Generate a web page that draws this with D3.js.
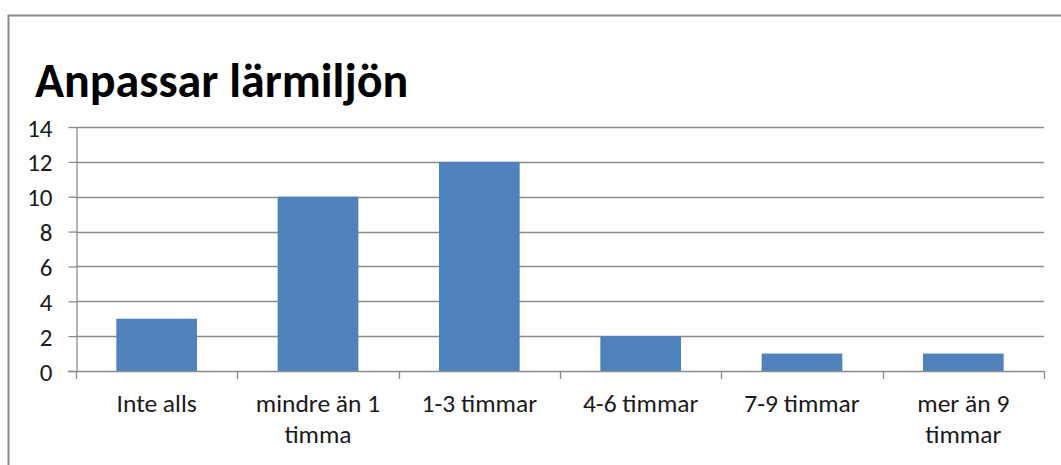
<!DOCTYPE html>
<html>
<head>
<meta charset="utf-8">
<script src="https://cdn.jsdelivr.net/npm/d3@7"></script>
<style>
  html, body { margin: 0; padding: 0; background: #fff; }
  svg { display: block; }
  text { font-family: Calibri, Carlito, Lato, "Liberation Sans", sans-serif; fill: #1a1a1a; }
</style>
</head>
<body>
<svg id="chart" width="1061" height="465"></svg>
<script>
// Chart data
const title = "Anpassar lärmiljön";
const categories = ["Inte alls", "mindre än 1\ntimma", "1-3 timmar", "4-6 timmar", "7-9 timmar", "mer än 9\ntimmar"];
const values = [3, 10, 12, 2, 1, 1];
const yTicks = [0, 2, 4, 6, 8, 10, 12, 14];

const svg = d3.select("#chart");
const W = 1061, H = 465;
const plot = { left: 76, right: 1044, top: 127, bottom: 371 };

// Outer chart frame (runs past the window on the right and bottom)
svg.append("rect")
  .attr("x", 8.5).attr("y", 15.5)
  .attr("width", W + 20).attr("height", H + 20)
  .attr("fill", "#fff")
  .attr("stroke", "#8a8a8a").attr("stroke-width", 2);

// Title
svg.append("text")
  .attr("x", 35).attr("y", 97)
  .attr("font-size", 48).attr("font-weight", 700)
  .style("fill", "#000")
  .text(title);

const x = d3.scaleBand()
  .domain(categories)
  .range([plot.left, plot.right])
  .paddingInner(0.5)
  .paddingOuter(0.25);

const y = d3.scaleLinear()
  .domain([0, 14])
  .range([plot.bottom, plot.top]);

// Horizontal gridlines
svg.append("g")
  .selectAll("line")
  .data(yTicks.filter(d => d > 0))
  .join("line")
  .attr("x1", plot.left).attr("x2", plot.right)
  .attr("y1", d => Math.round(y(d)) + 0.5).attr("y2", d => Math.round(y(d)) + 0.5)
  .attr("stroke", "#8c8c8c").attr("stroke-width", 1.3);

// Bars
svg.append("g")
  .selectAll("rect")
  .data(values)
  .join("rect")
  .attr("x", (d, i) => x(categories[i]))
  .attr("width", x.bandwidth())
  .attr("y", d => y(d))
  .attr("height", d => y(0) - y(d))
  .attr("fill", "#4f81bd");

// Y axis
const yAxis = svg.append("g")
  .attr("transform", `translate(${plot.left + 0.5},0)`)
  .call(d3.axisLeft(y).tickValues(yTicks).tickSize(8).tickPadding(16).tickSizeOuter(0));
yAxis.select(".domain").attr("stroke", "#8c8c8c").attr("stroke-width", 1.3);
yAxis.selectAll(".tick line").attr("stroke", "#8c8c8c").attr("stroke-width", 1.3);
yAxis.selectAll(".tick text")
  .attr("font-size", 25)
  .attr("font-family", null)
  .attr("dy", "0.36em");

// X axis line with category separators
const boundaries = d3.range(categories.length + 1).map(i => plot.left + i * (plot.right - plot.left) / categories.length);
const xg = svg.append("g");
xg.append("line")
  .attr("x1", plot.left - 8).attr("x2", plot.right)
  .attr("y1", y(0) + 0.5).attr("y2", y(0) + 0.5)
  .attr("stroke", "#8c8c8c").attr("stroke-width", 1.3);
xg.selectAll("line.sep")
  .data(boundaries)
  .join("line")
  .attr("class", "sep")
  .attr("x1", d => Math.round(d) + 0.5).attr("x2", d => Math.round(d) + 0.5)
  .attr("y1", y(0)).attr("y2", y(0) + 8)
  .attr("stroke", "#8c8c8c").attr("stroke-width", 1.3);

// Category labels (wrapped on "\n")
xg.selectAll("text")
  .data(categories)
  .join("text")
  .attr("text-anchor", "middle")
  .attr("font-size", 25.5)
  .each(function(d) {
    const t = d3.select(this);
    d.split("\n").forEach((line, i) => {
      t.append("tspan")
        .attr("x", x(d) + x.bandwidth() / 2)
        .attr("y", 412 + i * 31)
        .text(line);
    });
  });
</script>
</body>
</html>
